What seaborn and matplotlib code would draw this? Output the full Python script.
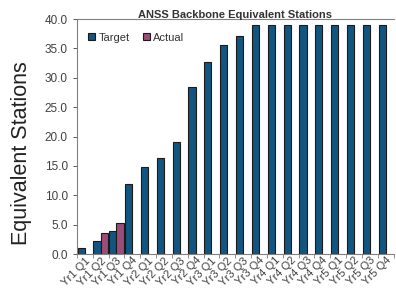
import numpy as np
import pandas as pd
import seaborn as sns
import matplotlib.pyplot as plt
from matplotlib.ticker import FormatStrFormatter, FixedLocator

quarters = [f"Yr{y} Q{q}" for y in range(1, 6) for q in range(1, 5)]
target = [1.0, 2.3, 3.9, 12.0, 14.9, 16.4, 19.1, 28.5, 32.7, 35.6, 37.1,
          39.0, 39.0, 39.0, 39.0, 39.0, 39.0, 39.0, 39.0, 39.0]
actual = [np.nan, 3.5, 5.3] + [np.nan] * 17

df = pd.DataFrame({
    "quarter": quarters * 2,
    "series": ["Target"] * 20 + ["Actual"] * 20,
    "value": target + actual,
})

sns.set_style("white")
plt.rcParams["font.family"] = ["Liberation Sans", "DejaVu Sans"]

fig = plt.figure(figsize=(3.96, 2.94), dpi=100)
ax = fig.add_axes([0.194, 0.136, 0.8, 0.799])

sns.barplot(data=df, x="quarter", y="value", hue="series", order=quarters,
            hue_order=["Target", "Actual"],
            palette={"Target": "#12567f", "Actual": "#9c4c78"}, saturation=1,
            width=0.9, edgecolor="#1a1a1a", linewidth=0.8, ax=ax)

ax.set_ylim(0, 40)
ax.set_xlim(-0.5, 19.5)
ax.set_yticks(np.arange(0, 40.1, 5))
ax.yaxis.set_major_formatter(FormatStrFormatter("%.1f"))
ax.tick_params(axis="y", labelsize=8.5, colors="#404040", left=True, length=3, width=0.6)
ax.tick_params(axis="x", labelsize=8, colors="#404040", length=0, pad=1)
ax.xaxis.set_minor_locator(FixedLocator(np.arange(-0.5, 20, 1)))
ax.tick_params(axis="x", which="minor", bottom=True, length=3, width=0.6, color="#808080")
plt.setp(ax.get_xticklabels(), rotation=45, ha="right", rotation_mode="anchor")

for s in ["left", "bottom", "top"]:
    ax.spines[s].set_color("#808080")
    ax.spines[s].set_linewidth(0.8)
ax.spines["right"].set_visible(False)

ax.set_xlabel("")
ax.set_ylabel("Equivalent Stations", fontsize=15.5, color="#222222")
ax.yaxis.set_label_coords(-0.14, 0.43)
ax.set_title("ANSS Backbone Equivalent Stations", fontsize=8, fontweight="bold",
             color="#333333", pad=0.5)

ax.legend(loc="upper left", bbox_to_anchor=(0.005, 0.985), ncol=2, frameon=False,
          fontsize=8, handlelength=0.6, handleheight=0.6, handletextpad=0.3,
          columnspacing=1.2, labelcolor="#333333")

fig.savefig("out.png", dpi=100)
